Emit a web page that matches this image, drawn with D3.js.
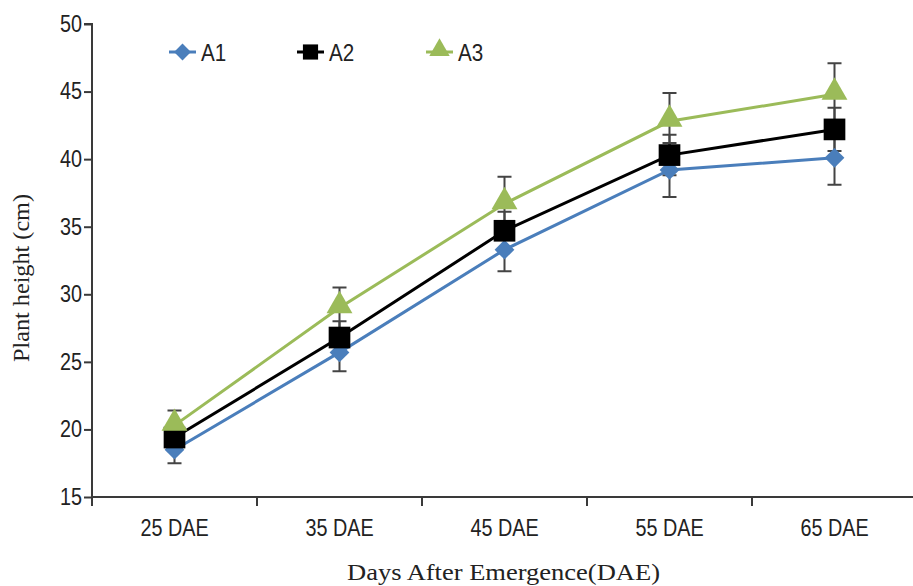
<!DOCTYPE html>
<html>
<head>
<meta charset="utf-8">
<script src="https://cdn.jsdelivr.net/npm/d3@7"></script>
<style>
  html, body { margin: 0; padding: 0; background: #fff; }
  svg { display: block; }
</style>
</head>
<body>
<svg id="chart" width="913" height="586"></svg>
<script>
// Plant height (cm) by days after emergence for three treatments
const categories = ["25 DAE", "35 DAE", "45 DAE", "55 DAE", "65 DAE"];
const seriesNames = ["A1", "A2", "A3"];
const a1Values = [18.5, 25.7, 33.3, 39.2, 40.1];
const a2Values = [19.4, 26.8, 34.7, 40.3, 42.2];
const a3Values = [20.3, 29.0, 36.7, 42.8, 44.8];
const a1Errors = [1.0, 1.4, 1.6, 2.0, 2.0];
const a2Errors = [1.0, 1.2, 1.4, 1.5, 1.6];
const a3Errors = [1.1, 1.5, 2.0, 2.1, 2.3];
const yTicks = [15, 20, 25, 30, 35, 40, 45, 50];

const colors = { A1: "#4a7ebb", A2: "#000000", A3: "#9bbb59" };
const symbols = { A1: d3.symbolDiamond2, A2: d3.symbolSquare, A3: d3.symbolTriangle };

const series = seriesNames.map((name, i) => ({
  name,
  values: [a1Values, a2Values, a3Values][i],
  errors: [a1Errors, a2Errors, a3Errors][i]
}));

const svg = d3.select("#chart");
const x = d3.scaleBand().domain(categories).range([92, 917]);
const y = d3.scaleLinear().domain([15, 50]).range([497, 24]);
const axisColor = "#3a3a3a";
const tickFont = "'Liberation Sans', Arial, sans-serif";
const titleFont = "'Liberation Serif', 'Times New Roman', serif";
const condense = 0.86;

// Y axis
const yAxis = svg.append("g")
  .attr("transform", `translate(${x.range()[0]},0)`)
  .call(d3.axisLeft(y).tickValues(yTicks).tickSize(8).tickPadding(2));
yAxis.select(".domain").attr("stroke", axisColor).attr("stroke-width", 2)
  .attr("d", `M-8,${y(50)}H0V${y(15)}`);
yAxis.selectAll(".tick line").attr("stroke", axisColor).attr("stroke-width", 2);
yAxis.selectAll(".tick text")
  .attr("fill", "#222")
  .attr("transform", `translate(-10,0) scale(${condense},1)`)
  .attr("x", 0)
  .style("font-family", tickFont)
  .style("font-size", "23px");

// X axis with ticks on band boundaries
const xAxis = svg.append("g").attr("transform", `translate(0,${y(15)})`);
xAxis.append("line")
  .attr("x1", x.range()[0]).attr("x2", 913)
  .attr("stroke", axisColor).attr("stroke-width", 2);
xAxis.selectAll("line.tick")
  .data(categories)
  .join("line")
  .attr("class", "tick")
  .attr("x1", d => x(d)).attr("x2", d => x(d))
  .attr("y1", 0).attr("y2", 9)
  .attr("stroke", axisColor).attr("stroke-width", 2);
xAxis.selectAll("text")
  .data(categories)
  .join("text")
  .attr("transform", d => `translate(${x(d) + x.bandwidth() / 2},39) scale(${condense},1)`)
  .attr("text-anchor", "middle")
  .attr("fill", "#222")
  .style("font-family", tickFont)
  .style("font-size", "23px")
  .text(d => d);

// Axis titles
svg.append("text")
  .attr("x", 347).attr("y", 580)
  .attr("textLength", 313)
  .attr("lengthAdjust", "spacingAndGlyphs")
  .attr("fill", "#222")
  .style("font-family", titleFont)
  .style("font-size", "24px")
  .text("Days After Emergence(DAE)");
svg.append("text")
  .attr("transform", "translate(29,362) rotate(-90)")
  .attr("textLength", 168)
  .attr("lengthAdjust", "spacingAndGlyphs")
  .attr("fill", "#222")
  .style("font-family", titleFont)
  .style("font-size", "23px")
  .text("Plant height (cm)");

const cx = d => x(d) + x.bandwidth() / 2;
const line = d3.line().x(d => cx(d.cat)).y(d => y(d.v));

// Error bars
const errG = svg.append("g");
series.forEach(s => {
  const pts = categories.map((c, i) => ({ cat: c, v: s.values[i], e: s.errors[i] }));
  errG.selectAll(null).data(pts).join("path")
    .attr("d", d => {
      const px = cx(d.cat), t = y(d.v + d.e), b = y(d.v - d.e);
      return `M${px - 7},${t}H${px + 7}M${px},${t}V${b}M${px - 7},${b}H${px + 7}`;
    })
    .attr("fill", "none")
    .attr("stroke", "#444")
    .attr("stroke-width", 2);
});

// Lines and markers
const markerSize = { A1: 250, A2: 470, A3: 290 };
series.forEach(s => {
  const pts = categories.map((c, i) => ({ cat: c, v: s.values[i] }));
  svg.append("path")
    .datum(pts)
    .attr("d", line)
    .attr("fill", "none")
    .attr("stroke", colors[s.name])
    .attr("stroke-width", 3);
});
series.forEach(s => {
  const pts = categories.map((c, i) => ({ cat: c, v: s.values[i] }));
  const sym = d3.symbol().type(symbols[s.name]).size(markerSize[s.name]);
  svg.append("g").selectAll("path")
    .data(pts)
    .join("path")
    .attr("transform", d => `translate(${cx(d.cat)},${y(d.v) + (s.name === "A3" ? -2 : 0)})`)
    .attr("d", sym)
    .attr("fill", colors[s.name]);
});

// Legend
const legendX = [169, 297, 426];
const legend = svg.append("g");
series.forEach((s, i) => {
  const g = legend.append("g").attr("transform", `translate(${legendX[i]},52)`);
  g.append("line").attr("x1", 0).attr("x2", 27)
    .attr("stroke", colors[s.name]).attr("stroke-width", 3);
  g.append("path")
    .attr("transform", `translate(13.5,${s.name === "A3" ? -2 : 0})`)
    .attr("d", d3.symbol().type(symbols[s.name]).size(s.name === "A2" ? 230 : 180))
    .attr("fill", colors[s.name]);
  g.append("text")
    .attr("transform", `translate(32,9) scale(${condense},1)`)
    .attr("fill", "#222")
    .style("font-family", tickFont)
    .style("font-size", "24px")
    .text(s.name);
});
</script>
</body>
</html>
